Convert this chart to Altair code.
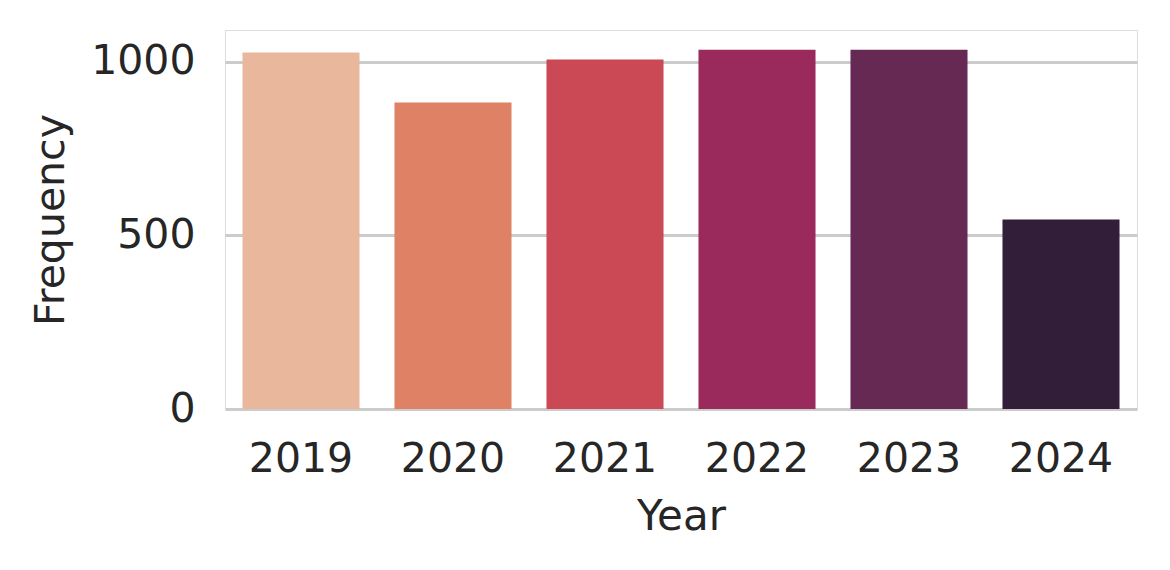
import altair as alt
import pandas as pd

years = ["2019", "2020", "2021", "2022", "2023", "2024"]
frequency = [1027, 883, 1007, 1035, 1035, 546]
colors = ["#E9B89C", "#DF8165", "#CB4954", "#9A2A5B", "#662953", "#331E39"]

df = pd.DataFrame({"Year": years, "Frequency": frequency})

FONT = "DejaVu Sans"
TXT = "#262626"

chart = (
    alt.Chart(df)
    .mark_bar()
    .encode(
        x=alt.X(
            "Year:N",
            sort=years,
            scale=alt.Scale(paddingInner=0.23, paddingOuter=0.115),
            axis=alt.Axis(
                title="Year",
                labelAngle=0,
                ticks=False,
                domain=False,
                grid=False,
                labelFont=FONT,
                titleFont=FONT,
                labelColor=TXT,
                titleColor=TXT,
                labelFontSize=41,
                titleFontSize=42,
                labelPadding=30,
                titlePadding=17,
                titleFontWeight="normal",
            ),
        ),
        y=alt.Y(
            "Frequency:Q",
            scale=alt.Scale(domain=[0, 1092], nice=False),
            axis=alt.Axis(
                title="Frequency",
                values=[0, 500, 1000],
                format="d",
                ticks=False,
                domain=False,
                grid=True,
                gridColor="#cccccc",
                gridWidth=3,
                labelFont=FONT,
                titleFont=FONT,
                labelColor=TXT,
                titleColor=TXT,
                labelFontSize=41,
                titleFontSize=41,
                labelPadding=30,
                titlePadding=18,
                titleFontWeight="normal",
            ),
        ),
        color=alt.Color("Year:N", sort=years, scale=alt.Scale(domain=years, range=colors), legend=None),
    )
    .properties(width=912, height=379, padding={"left": 22, "top": 22, "right": 5, "bottom": 5})
    .configure_view(stroke="#c8c8c8", strokeWidth=3)
    .configure(background="white")
)

chart.save("out.html", embed_options={"renderer": "svg", "actions": False})
